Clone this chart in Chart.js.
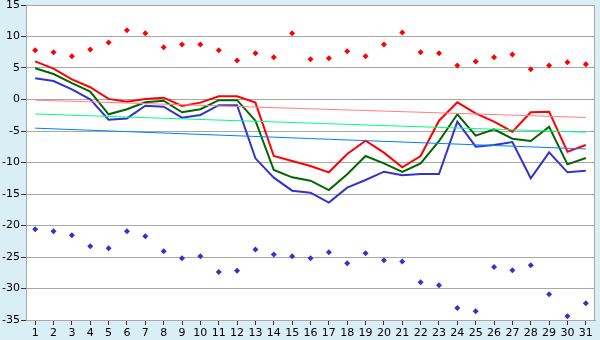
<!DOCTYPE html>
<html>
<head>
<meta charset="utf-8">
<script src="https://cdn.jsdelivr.net/npm/chart.js@4/dist/chart.umd.min.js"></script>
<style>
  html, body { margin: 0; padding: 0; background: #d9eef5; }
  #wrap { width: 600px; height: 340px; position: relative; }
</style>
</head>
<body>
<div id="wrap"><canvas id="c" width="600" height="340"></canvas></div>
<script>
const days = ['1','2','3','4','5','6','7','8','9','10','11','12','13','14','15','16','17','18','19','20','21','22','23','24','25','26','27','28','29','30','31'];
const yTicks = [15, 10, 5, 0, -5, -10, -15, -20, -25, -30, -35];

const upperLine = [6.06, 4.9, 3.2, 1.95, 0.1, -0.35, 0.08, 0.29, -1.03, -0.5, 0.52, 0.52, -0.5, -8.97, -9.76, -10.56, -11.56, -8.65, -6.54, -8.44, -10.77, -8.97, -3.36, -0.45, -2.2, -3.52, -5.11, -2.03, -1.93, -8.28, -7.22];
const meanLine = [4.95, 4.05, 2.6, 1.25, -2.35, -1.55, -0.45, -0.2, -2.03, -1.55, -0.11, -0.11, -3.36, -11.19, -12.35, -12.88, -14.37, -11.87, -8.97, -10.13, -11.5, -10.13, -6.6, -2.35, -5.74, -4.73, -6.22, -6.59, -4.32, -10.29, -9.29];
const lowerLine = [3.36, 2.94, 1.6, 0.03, -3.2, -3.0, -0.98, -1.14, -2.88, -2.46, -0.9, -0.9, -9.34, -12.4, -14.47, -14.79, -16.37, -14.0, -12.78, -11.46, -12.03, -11.83, -11.83, -3.52, -7.49, -7.22, -6.75, -12.5, -8.39, -11.56, -11.3];
const maxPoints = [7.8, 7.5, 6.85, 7.95, 9.05, 11.0, 10.5, 8.3, 8.75, 8.75, 7.8, 6.2, 7.35, 6.7, 10.5, 6.4, 6.55, 7.65, 6.85, 8.75, 10.65, 7.5, 7.35, 5.4, 6.05, 6.7, 7.15, 4.8, 5.4, 5.9, 5.6];
const minPoints = [-20.6, -20.9, -21.55, -23.3, -23.6, -20.9, -21.7, -24.1, -25.2, -24.9, -27.4, -27.2, -23.8, -24.6, -24.9, -25.2, -24.25, -26.0, -24.4, -25.5, -25.7, -29.0, -29.5, -33.1, -33.6, -26.6, -27.1, -26.3, -30.9, -34.4, -32.35];
const trendUpper = [-0.1, -2.85];
const trendMean = [-2.3, -5.2];
const trendLower = [-4.55, -7.85];

function trend(vals) {
  return [{ x: days[0], y: vals[0] }, { x: days[days.length - 1], y: vals[1] }];
}

const plotBg = {
  id: 'plotBg',
  beforeDraw(chart) {
    const { ctx, chartArea: a } = chart;
    ctx.save();
    ctx.fillStyle = '#ffffff';
    ctx.fillRect(a.left, a.top, a.right - a.left, a.bottom - a.top);
    ctx.restore();
  },
  afterDatasetsDraw(chart) {
    const { ctx, chartArea: a } = chart;
    ctx.save();
    ctx.strokeStyle = '#a8a8a8';
    ctx.lineWidth = 1;
    ctx.strokeRect(a.left + 0.5, a.top + 0.5, a.right - a.left - 1, a.bottom - a.top);
    ctx.restore();
  }
};

const lineBase = { fill: false, tension: 0, pointRadius: 0, pointHoverRadius: 0 };

new Chart(document.getElementById('c'), {
  type: 'line',
  data: {
    labels: days,
    datasets: [
      { ...lineBase, data: trend(trendUpper), borderColor: '#ff8080', borderWidth: 1 },
      { ...lineBase, data: trend(trendMean), borderColor: '#00ff80', borderWidth: 1 },
      { ...lineBase, data: trend(trendLower), borderColor: '#0080ff', borderWidth: 1 },
      { ...lineBase, data: upperLine, borderColor: '#ff0000', borderWidth: 2 },
      { ...lineBase, data: meanLine, borderColor: '#006600', borderWidth: 2 },
      { ...lineBase, data: lowerLine, borderColor: '#3333cc', borderWidth: 2 },
      { data: maxPoints, showLine: false, pointStyle: 'rectRot', pointRadius: 3, pointBackgroundColor: '#ff0000', pointBorderColor: '#ff0000', borderWidth: 0 },
      { data: minPoints, showLine: false, pointStyle: 'rectRot', pointRadius: 3, pointBackgroundColor: '#3333cc', pointBorderColor: '#3333cc', borderWidth: 0 }
    ]
  },
  options: {
    responsive: false,
    animation: false,
    events: [],
    layout: { padding: { left: 0, right: 5, top: 5, bottom: 0 } },
    plugins: { legend: { display: false }, tooltip: { enabled: false } },
    scales: {
      x: {
        type: 'category',
        offset: true,
        grid: { display: true, drawOnChartArea: false, drawTicks: true, tickLength: 5, tickColor: '#333333', offset: false },
        border: { display: true, color: '#a8a8a8' },
        ticks: { color: '#000000', font: { family: 'DejaVu Sans', size: 11 }, padding: 2, maxRotation: 0, autoSkip: false },
        afterFit(scale) { scale.height = 20; scale.paddingLeft = 0; scale.paddingRight = 0; }
      },
      y: {
        min: -35, max: 15,
        afterBuildTicks(scale) { scale.ticks = yTicks.map(v => ({ value: v })); },
        grid: { color: '#a8a8a8', tickLength: 5, tickColor: '#333333', drawTicks: true },
        border: { display: true, color: '#a8a8a8' },
        ticks: { color: '#000000', font: { family: 'DejaVu Sans', size: 11 }, padding: 1 },
        afterFit(scale) { scale.width = 26; scale.paddingTop = 0; scale.paddingBottom = 0; }
      }
    }
  },
  plugins: [plotBg]
});
</script>
</body>
</html>
